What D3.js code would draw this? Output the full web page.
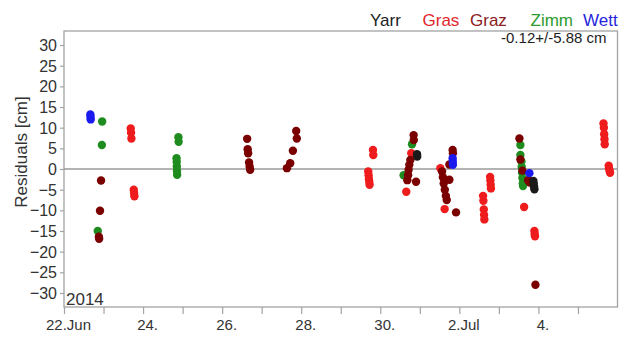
<!DOCTYPE html>
<html>
<head>
<meta charset="utf-8">
<script src="https://cdn.jsdelivr.net/npm/d3@7"></script>
<style>
  html, body { margin: 0; padding: 0; background: #fff; }
  svg { display: block; font-family: "Liberation Sans", Arial, sans-serif; }
</style>
</head>
<body>
<svg id="chart" width="630" height="338"></svg>
<script>
// Station residuals, 2014 (UTC time, residual in cm)
const gras = [
  ["2014-06-23T16:30", 9.8], ["2014-06-23T16:42", 8.8], ["2014-06-23T16:55", 7.4],
  ["2014-06-23T18:20", -5.0], ["2014-06-23T18:32", -5.8], ["2014-06-23T18:45", -6.6],
  ["2014-06-29T16:40", -0.6], ["2014-06-29T16:54", -1.5], ["2014-06-29T17:05", -2.4],
  ["2014-06-29T17:19", -3.1], ["2014-06-29T17:30", -3.8],
  ["2014-06-29T19:34", 4.6], ["2014-06-29T19:45", 3.4],
  ["2014-06-30T18:50", 3.8], ["2014-06-30T15:47", -5.5],
  ["2014-07-01T12:28", 0.2], ["2014-07-01T15:04", -9.7],
  ["2014-07-02T14:24", -6.5], ["2014-07-02T14:35", -7.7], ["2014-07-02T14:50", -9.8],
  ["2014-07-02T15:00", -11.1], ["2014-07-02T15:10", -12.2],
  ["2014-07-02T18:40", -1.9], ["2014-07-02T18:50", -2.8], ["2014-07-02T19:00", -3.8], ["2014-07-02T19:10", -4.7],
  ["2014-07-03T15:19", -9.2],
  ["2014-07-03T21:34", -15.0], ["2014-07-03T21:45", -15.8], ["2014-07-03T21:55", -16.3],
  ["2014-07-05T15:30", 11.0], ["2014-07-05T15:44", 10.0], ["2014-07-05T15:55", 8.4],
  ["2014-07-05T16:06", 7.2], ["2014-07-05T16:15", 6.0],
  ["2014-07-05T18:40", 0.8], ["2014-07-05T18:50", 0.2], ["2014-07-05T19:10", -0.4], ["2014-07-05T19:30", -0.9]
];
const graz = [
  ["2014-06-22T22:29", -2.8], ["2014-06-22T21:52", -10.1], ["2014-06-22T21:10", -16.4], ["2014-06-22T21:20", -16.9],
  ["2014-06-26T15:11", 7.3], ["2014-06-26T15:30", 4.8], ["2014-06-26T15:47", 3.8],
  ["2014-06-26T16:20", 1.6], ["2014-06-26T16:40", 0.6], ["2014-06-26T17:00", -0.2],
  ["2014-06-27T15:19", 0.2], ["2014-06-27T17:19", 1.4], ["2014-06-27T18:57", 4.4],
  ["2014-06-27T20:57", 9.2], ["2014-06-27T21:20", 7.4],
  ["2014-06-30T20:14", 8.2], ["2014-06-30T20:20", 7.0],
  ["2014-06-30T18:14", 2.2], ["2014-06-30T17:37", 1.0], ["2014-06-30T17:11", -0.2],
  ["2014-06-30T16:54", -1.5], ["2014-06-30T16:25", -2.7], ["2014-06-30T21:42", -3.1],
  ["2014-07-01T19:55", 4.6], ["2014-07-01T20:05", 3.8], ["2014-07-01T17:56", 1.1],
  ["2014-07-01T13:30", -0.6], ["2014-07-01T14:00", -2.0], ["2014-07-01T14:30", -3.5],
  ["2014-07-01T15:10", -5.0], ["2014-07-01T15:48", -6.5], ["2014-07-01T16:20", -7.5],
  ["2014-07-01T17:56", -2.6], ["2014-07-01T21:59", -10.5],
  ["2014-07-03T12:28", 7.4], ["2014-07-03T13:03", 2.3], ["2014-07-03T14:17", -0.4],
  ["2014-07-03T17:44", -2.7], ["2014-07-03T18:50", -3.3], ["2014-07-03T22:11", -28.0]
];
const zimm = [
  ["2014-06-22T23:10", 11.5], ["2014-06-22T23:00", 5.8], ["2014-06-22T20:30", -15.0],
  ["2014-06-24T21:27", 7.7], ["2014-06-24T21:35", 6.6],
  ["2014-06-24T20:20", 2.6], ["2014-06-24T20:25", 1.7], ["2014-06-24T20:30", 0.6],
  ["2014-06-24T20:35", -0.5], ["2014-06-24T20:40", -1.4],
  ["2014-06-30T19:16", 6.0], ["2014-06-30T14:10", -1.5],
  ["2014-07-03T13:03", 5.8], ["2014-07-03T13:03", 3.4],
  ["2014-07-03T13:41", 1.8], ["2014-07-03T13:50", 0.5], ["2014-07-03T14:05", -0.9],
  ["2014-07-03T14:17", -2.2], ["2014-07-03T14:30", -3.5], ["2014-07-03T14:40", -4.1]
];
const wett = [
  ["2014-06-22T16:00", 13.2], ["2014-06-22T16:06", 12.6], ["2014-06-22T16:12", 12.0],
  ["2014-07-01T19:55", 2.6], ["2014-07-01T20:00", 1.8], ["2014-07-01T20:05", 1.0],
  ["2014-07-03T18:32", -1.0]
];
const yarr = [
  ["2014-06-30T22:18", 3.6], ["2014-06-30T22:25", 3.0],
  ["2014-07-03T20:57", -2.9], ["2014-07-03T21:10", -3.6], ["2014-07-03T21:20", -4.3], ["2014-07-03T21:34", -4.9]
];

const stations = ["Yarr", "Gras", "Graz", "Zimm", "Wett"];
const stationColors = ["#1a1a1a", "#ee1c1c", "#7a0000", "#1e8c1e", "#1a1aee"];
const legendColors = ["#222222", "#e0262b", "#8a2020", "#2e9a2e", "#2626dd"];
const drawOrder = [["Gras", gras], ["Zimm", zimm], ["Graz", graz], ["Wett", wett], ["Yarr", yarr]];

const yTicks = d3.range(-30, 31, 5);
const xDomain = ["2014-06-22T00:00", "2014-07-06T00:00"];
const xLabelFormat = d => {
  const day = d.getUTCDate();
  if (day === 22 && d.getUTCMonth() === 5) return "22.Jun";
  if (day === 2 && d.getUTCMonth() === 6) return "2.Jul";
  return day + ".";
};
const meanText = "-0.12+/-5.88 cm";
const yearText = "2014";

const parse = d3.utcParse("%Y-%m-%dT%H:%M");
const width = 630, height = 338;
const margin = { top: 31, right: 12.5, bottom: 31, left: 64 };

const svg = d3.select("#chart");

const x = d3.scaleUtc()
  .domain(xDomain.map(parse))
  .range([margin.left, width - margin.right]);
const y = d3.scaleLinear()
  .domain([-33.4, 33.4])
  .range([height - margin.bottom, margin.top]);

const grey = "#a3a3a3";

// frame
svg.append("rect")
  .attr("x", margin.left).attr("y", margin.top)
  .attr("width", width - margin.left - margin.right)
  .attr("height", height - margin.top - margin.bottom)
  .attr("fill", "none").attr("stroke", grey).attr("stroke-width", 1.3);

// zero line
svg.append("line")
  .attr("x1", margin.left).attr("x2", width - margin.right)
  .attr("y1", y(0)).attr("y2", y(0))
  .attr("stroke", "#9a9a9a").attr("stroke-width", 1.3);

// y axis
const yAxis = svg.append("g")
  .attr("transform", `translate(${margin.left},0)`)
  .call(d3.axisLeft(y).tickValues(yTicks).tickSize(4).tickPadding(3));
yAxis.select(".domain").remove();
yAxis.selectAll(".tick line").attr("stroke", grey).attr("stroke-width", 1.2);
yAxis.selectAll(".tick text")
  .attr("fill", "#333").attr("font-size", 16)
  .attr("transform", "scale(1,1.08)")
  .attr("font-family", "'Liberation Sans', Arial, sans-serif");

// x axis: daily ticks, labels on every second day
const days = d3.utcDay.range(parse(xDomain[0]), parse(xDomain[1]));
const xAxis = svg.append("g")
  .attr("transform", `translate(0,${height - margin.bottom})`)
  .call(d3.axisBottom(x).tickValues(days).tickSize(7).tickPadding(5)
    .tickFormat(d => (d3.utcDay.count(parse(xDomain[0]), d) % 2 === 0 ? xLabelFormat(d) : "")));
xAxis.select(".domain").remove();
xAxis.selectAll(".tick line").attr("stroke", grey).attr("stroke-width", 1.2);
xAxis.selectAll(".tick text")
  .attr("fill", "#333").attr("font-size", 15)
  .attr("dx", 4)
  .attr("font-family", "'Liberation Sans', Arial, sans-serif");

// axis title
svg.append("text")
  .attr("transform", "translate(26.5,152) rotate(-90)")
  .attr("text-anchor", "middle")
  .attr("font-size", 17).attr("fill", "#333")
  .text("Residuals [cm]");

// points
const colorOf = d3.scaleOrdinal().domain(stations).range(stationColors);
drawOrder.forEach(([name, rows]) => {
  svg.append("g")
    .selectAll("circle")
    .data(rows)
    .join("circle")
    .attr("cx", d => x(parse(d[0])))
    .attr("cy", d => y(d[1]))
    .attr("r", 4.2)
    .attr("fill", colorOf(name));
});

// legend
const legendX = [370, 422.5, 470, 530.5, 583];
svg.append("g").selectAll("text")
  .data(stations)
  .join("text")
  .attr("x", (d, i) => legendX[i])
  .attr("y", 26)
  .attr("font-size", 17)
  .attr("fill", (d, i) => legendColors[i])
  .text(d => d);

// statistics and year
svg.append("text")
  .attr("x", 606.5).attr("y", 43)
  .attr("text-anchor", "end")
  .attr("font-size", 15).attr("fill", "#222")
  .text(meanText);
svg.append("text")
  .attr("x", 66).attr("y", 305)
  .attr("font-size", 17).attr("fill", "#333")
  .text(yearText);
</script>
</body>
</html>
